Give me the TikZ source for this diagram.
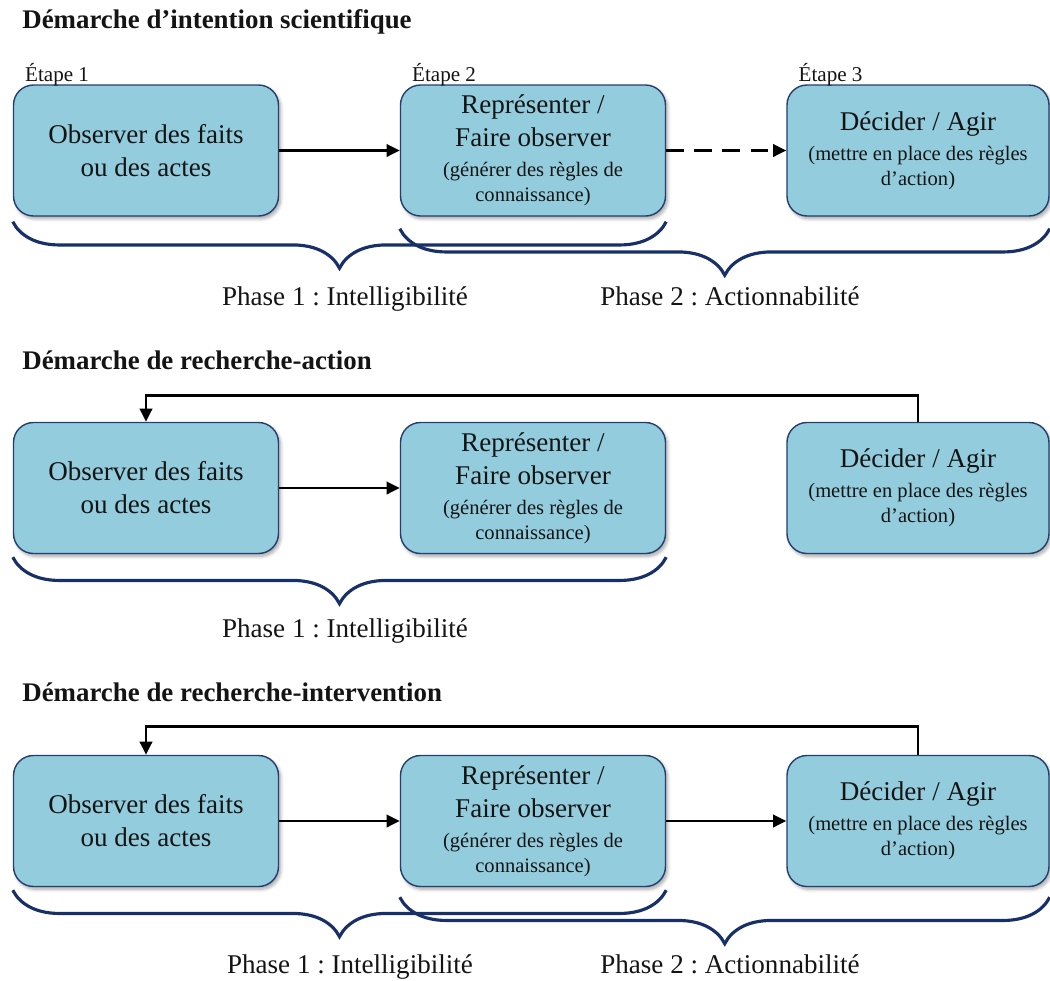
\documentclass[tikz,border=0pt]{standalone}
\usepackage{fontspec}
\setmainfont{Liberation Serif}
\frenchspacing
\usetikzlibrary{
    arrows.meta,
    calc,
    decorations.pathreplacing,
    positioning,
    shadows.blur
}
\definecolor{ink}{RGB}{20,20,20}
\definecolor{boxfill}{RGB}{147,205,221}
\definecolor{boxline}{RGB}{36,62,112}
\definecolor{bracenavy}{RGB}{24,48,104}
\newcommand{\mainsize}{\fontsize{15.4}{18.8}\selectfont}
\newcommand{\subsize}{\fontsize{11.7}{14.2}\selectfont}
\newcommand{\stepsize}{\fontsize{12}{14}\selectfont}
\newcommand{\titlesize}{\fontsize{15.3}{18}\selectfont}
\tikzset{
    pop/.style={
        blur shadow={shadow xshift=1.2pt, shadow yshift=-1.6pt,
            shadow blur steps=6, shadow opacity=35}
    },
    stepbox/.style={
        rectangle,
        rounded corners=0.4cm,
        draw=boxline,
        line width=0.8pt,
        fill=boxfill,
        minimum width=5.3cm,
        minimum height=2.62cm,
        align=center,
        font=\mainsize,
        text=ink,
        pop
    },
    steplabel/.style={
        font=\stepsize,
        text=ink,
        anchor=base west,
        inner sep=0pt
    },
    rowtitle/.style={
        font=\titlesize\bfseries,
        text=ink,
        anchor=west,
        inner sep=0pt
    },
    phaselabel/.style={
        font=\mainsize,
        text=ink,
        anchor=base
    },
    flow/.style={
        ->,
        >={Triangle[length=7.5pt, width=7pt]},
        draw=black,
        line width=1.6pt
    },
    flowdashed/.style={
        flow,
        dash pattern=on 10pt off 6pt
    },
    phasebrace/.style={
        draw=bracenavy,
        line width=1.8pt,
        decorate,
        decoration={brace, mirror, amplitude=0.93cm}
    }
}

\begin{document}
\begin{tikzpicture}
\useasboundingbox (0,0) rectangle (21,-19.62);

% Row titles
\node[rowtitle] (t1) at (0.44,-0.44) {Démarche d’intention scientifique};
\node[rowtitle] (t2) at (0.44,-7.2) {Démarche de recherche-action};
\node[rowtitle] (t3) at (0.44,-13.84) {Démarche de recherche-intervention};

% The three steps, same in every row
\foreach \r/\y in {1/-3.01, 2/-9.76, 3/-16.42} {
    \node[stepbox] (b\r1) at (2.92,\y) {Observer des faits\\ou des actes};
    \node[stepbox] (b\r2) at (10.66,\y)
        {Représenter /\\Faire observer\\[-1.8pt]{\subsize (générer des règles de}\\[-4.6pt]{\subsize connaissance)}};
    \node[stepbox, minimum width=5.24cm] (b\r3) at (18.36,\y)
        {Décider / Agir\\[-1.8pt]{\subsize (mettre en place des règles}\\[-4.6pt]{\subsize d’action)}};
}

% Row 1
\node[steplabel] (e1) at ([xshift=0.24cm, yshift=0.06cm]b11.north west) {Étape 1};
\node[steplabel] (e2) at ([xshift=0.24cm, yshift=0.06cm]b12.north west) {Étape 2};
\node[steplabel] (e3) at ([xshift=0.24cm, yshift=0.06cm]b13.north west) {Étape 3};
\draw[flow] (b11.east) -- (b12.west);
\draw[flowdashed] (b12.east) -- (b13.west);
\draw[phasebrace] ([yshift=-0.1cm]b11.south west) -- ([yshift=-0.1cm]b12.south east);
\draw[phasebrace] ([yshift=-0.24cm]b12.south west) -- ([yshift=-0.24cm]b13.south east);
\node[phaselabel] (p11) at (6.9,-6.1) {Phase 1 : Intelligibilité};
\node[phaselabel] (p12) at (14.6,-6.1) {Phase 2 : Actionnabilité};

% Row 2
\draw[flow] (b21.east) -- (b22.west);
\draw[flow] (b23.north) -- ++(0,0.52) -| (b21.north);
\draw[phasebrace] ([yshift=-0.06cm]b21.south west) -- ([yshift=-0.06cm]b22.south east);
\node[phaselabel] (p21) at (6.9,-12.74) {Phase 1 : Intelligibilité};

% Row 3
\draw[flow] (b31.east) -- (b32.west);
\draw[flow] (b32.east) -- (b33.west);
\draw[flow] (b33.north) -- ++(0,0.56) -| (b31.north);
\draw[phasebrace] ([yshift=-0.06cm]b31.south west) -- ([yshift=-0.06cm]b32.south east);
\draw[phasebrace] ([yshift=-0.2cm]b32.south west) -- ([yshift=-0.2cm]b33.south east);
\node[phaselabel] (p31) at (7.0,-19.46) {Phase 1 : Intelligibilité};
\node[phaselabel] (p32) at (14.6,-19.46) {Phase 2 : Actionnabilité};
\end{tikzpicture}
\end{document}
